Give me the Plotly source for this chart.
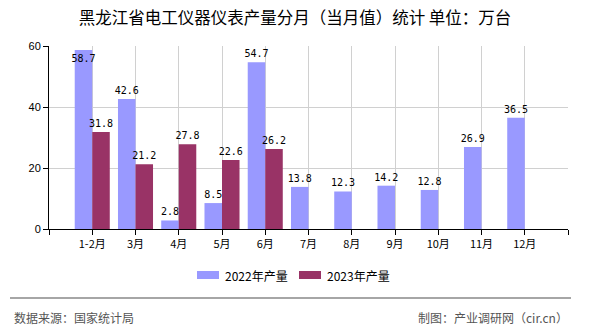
import plotly.graph_objects as go

# Monthly output of electrical instruments, Heilongjiang (10k units)
categories = ["1-2月", "3月", "4月", "5月", "6月", "7月", "8月", "9月", "10月", "11月", "12月"]
series_2022_name = "2022年产量"
series_2023_name = "2023年产量"
values_2022 = [58.7, 42.6, 2.8, 8.5, 54.7, 13.8, 12.3, 14.2, 12.8, 26.9, 36.5]
values_2023 = [31.8, 21.2, 27.8, 22.6, 26.2]
y_ticks = [0, 20, 40, 60]

TITLE = "黑龙江省电工仪器仪表产量分月（当月值）统计 单位：万台"
SOURCE = "数据来源：国家统计局"
CREDIT = "制图：产业调研网（cir.cn）"

COLOR_2022 = "#9999FF"
COLOR_2023 = "#993366"
Y_MAX = 60
CJK = "Noto Sans CJK SC"
MONO = "DejaVu Sans Mono"

x_idx = list(range(len(categories)))


def label_positions(vals):
    # labels that would run past the top of the axis sit inside the bar
    return ["inside" if v > Y_MAX - 4 else "outside" for v in vals]


fig = go.Figure()
for name, vals, color in [
    (series_2022_name, values_2022, COLOR_2022),
    (series_2023_name, values_2023, COLOR_2023),
]:
    fig.add_trace(go.Bar(
        x=x_idx[:len(vals)],
        y=vals,
        name=name,
        marker=dict(color=color, line=dict(width=0)),
        text=[f"{v:.1f}" for v in vals],
        textposition=label_positions(vals),
        insidetextanchor="end",
        textangle=0,
        constraintext="none",
        textfont=dict(family=MONO, size=10, color="#000000"),
        cliponaxis=False,
        showlegend=False,
    ))

tick_vals = list(range(-1, len(categories) + 1))
tick_text = [""] + categories + [""]

fig.update_layout(
    width=590,
    height=330,
    margin=dict(l=49, r=22, t=46, b=101),
    paper_bgcolor="white",
    plot_bgcolor="white",
    barmode="group",
    bargap=0.19,
    bargroupgap=0,
    title=dict(
        text=TITLE,
        x=0.5, xanchor="center",
        y=1 - 18 / 330, yanchor="middle",
        font=dict(family=CJK, size=16.5, color="#000000"),
    ),
    xaxis=dict(
        range=[-1, len(categories)],
        tickmode="array",
        tickvals=tick_vals,
        ticktext=tick_text,
        ticks="outside",
        ticklen=5,
        tickcolor="#000000",
        showline=True,
        linecolor="#000000",
        linewidth=1,
        showgrid=True,
        gridcolor="#D0D0D0",
        gridwidth=1,
        zeroline=False,
        tickfont=dict(family=CJK, size=11, color="#000000"),
        fixedrange=True,
    ),
    yaxis=dict(
        range=[0, Y_MAX],
        tickmode="array",
        tickvals=y_ticks,
        ticks="outside",
        ticklen=5,
        tickcolor="#000000",
        showline=True,
        linecolor="#000000",
        linewidth=1,
        showgrid=True,
        gridcolor="#D0D0D0",
        gridwidth=1,
        zeroline=False,
        tickfont=dict(family="Liberation Sans", size=11, color="#000000"),
        fixedrange=True,
    ),
)

# Legend drawn as wide swatches centred under the plot
legend_items = [(series_2022_name, COLOR_2022, 197), (series_2023_name, COLOR_2023, 299)]
legend_y = 275
for name, color, x0 in legend_items:
    fig.add_shape(
        type="rect", xref="paper", yref="paper",
        x0=(x0 - 49) / 519, x1=(x0 + 22 - 49) / 519,
        y0=(229 - legend_y - 4) / 183, y1=(229 - legend_y + 4) / 183,
        fillcolor=color, line=dict(width=0),
    )
    fig.add_annotation(
        xref="paper", yref="paper",
        x=(x0 + 26 - 49) / 519, y=(229 - legend_y) / 183,
        xanchor="left", yanchor="middle",
        text=name, showarrow=False,
        font=dict(family=CJK, size=12, color="#000000"),
    )

# Footer: separator rule, source and credit
fig.add_shape(
    type="line", xref="paper", yref="paper",
    x0=(10 - 49) / 519, x1=(571 - 49) / 519,
    y0=(229 - 298) / 183, y1=(229 - 298) / 183,
    line=dict(color="#888888", width=1.5),
)
fig.add_annotation(
    xref="paper", yref="paper",
    x=(12 - 49) / 519, y=(229 - 317) / 183,
    xanchor="left", yanchor="middle",
    text=SOURCE, showarrow=False,
    font=dict(family=CJK, size=12, color="#555555"),
)
fig.add_annotation(
    xref="paper", yref="paper",
    x=(570 - 49) / 519, y=(229 - 317) / 183,
    xanchor="right", yanchor="middle",
    text=CREDIT, showarrow=False,
    font=dict(family=CJK, size=12, color="#555555"),
)

fig.write_html("out.html", config={"displayModeBar": False})
